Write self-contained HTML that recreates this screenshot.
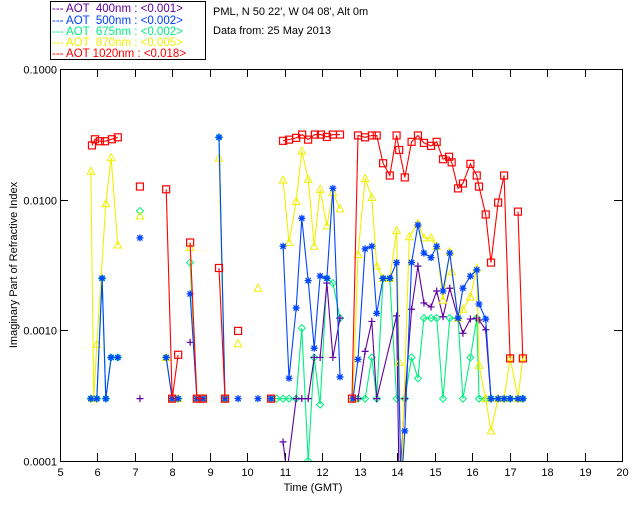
<!DOCTYPE html>
<html><head><meta charset="utf-8">
<style>
body{margin:0;background:#fff;}
svg{display:block;font-family:"Liberation Sans",sans-serif;}
</style></head>
<body>
<svg id="chart" width="640" height="512" viewBox="0 0 640 512">
<rect x="0" y="0" width="640" height="512" fill="#fff"/>
<g>
<rect x="50.5" y="1.5" width="155" height="58" fill="#fff" stroke="#000" stroke-width="1"/>
<g font-size="11.5">
<text x="52" y="12" fill="#6000a0" xml:space="preserve">--- AOT  400nm : &lt;0.001&gt;</text>
<text x="52" y="24" fill="#0040ff" xml:space="preserve">--- AOT  500nm : &lt;0.002&gt;</text>
<text x="52" y="35" fill="#00f080" xml:space="preserve">--- AOT  675nm : &lt;0.002&gt;</text>
<text x="52" y="46" fill="#f0f000" xml:space="preserve">--- AOT  870nm : &lt;0.005&gt;</text>
<text x="52" y="57" fill="#ff0000" xml:space="preserve">--- AOT 1020nm : &lt;0.018&gt;</text>
</g>
</g>
<text x="213" y="15" font-size="11" fill="#000">PML, N 50 22', W 04 08', Alt 0m</text>
<text x="213" y="34" font-size="11" fill="#000">Data from: 25 May 2013</text>
<g id="axes"></g>
<g id="series"></g>
<text x="313" y="491" font-size="11" text-anchor="middle">Time (GMT)</text>
<text transform="translate(17,265) rotate(-90)" font-size="11" text-anchor="middle">Imaginary Part of Refractive Index</text>
</svg>
<script>
const xTicks = [5,6,7,8,9,10,11,12,13,14,15,16,17,18,19,20];
const yTicks = [0.1,0.01,0.001,0.0001];
const yTickLabels = ["0.1000","0.0100","0.0010","0.0001"];

const tRed = [5.8,5.88,6.01,6.15,6.33,6.49,null,7.08,null,7.78,7.94,8.1,null,8.42,8.6,8.76,null,9.19,9.35,null,9.7,null,10.58,null,10.9,11.06,11.25,11.41,11.57,11.75,11.91,12.07,12.23,12.42,null,12.74,12.9,13.09,13.27,13.4,13.57,13.75,13.93,14.0,14.15,14.33,14.5,14.66,14.85,15.0,15.17,15.33,15.4,15.57,15.7,15.9,16.07,16.13,16.31,16.45,16.64,16.8,16.96,null,17.17,17.3];
const vRed = [0.026,0.029,0.028,0.028,0.029,0.030,null,0.0126,null,0.012,0.0003,0.00065,null,0.0047,0.0003,0.0003,null,0.003,0.0003,null,0.00099,null,0.0003,null,0.0282,0.0288,0.0297,0.0315,0.0288,0.0315,0.0315,0.0302,0.0315,0.0315,null,0.0003,0.031,0.030,0.031,0.031,0.019,0.0153,0.031,0.024,0.0148,0.0277,0.031,0.0272,0.0258,0.0277,0.0204,0.0213,0.0193,0.0122,0.0133,0.0188,0.0153,0.0126,0.0077,0.0033,0.0095,0.0153,0.00061,null,0.0081,0.00061];

const tBlue = [5.77,5.93,6.07,6.17,6.31,6.49,null,7.08,null,7.78,7.94,8.1,null,8.42,8.6,8.76,null,9.19,9.35,null,9.7,null,10.23,null,10.58,null,10.9,11.06,11.25,11.4,11.57,11.73,11.89,12.07,12.23,12.42,null,12.77,12.9,13.09,13.27,13.4,13.57,13.75,13.93,14.05,14.15,14.33,14.5,14.66,14.85,15.0,15.17,15.35,15.57,15.7,15.9,16.07,16.13,16.31,16.45,16.64,16.8,16.96,17.17,17.3];
const vBlue = [0.0003,0.0003,0.0025,0.0003,0.00062,0.00062,null,0.0051,null,0.00062,0.0003,0.0003,null,0.0019,0.0003,0.0003,null,0.030,0.0003,null,0.0003,null,0.0003,null,0.0003,null,0.0044,0.00043,0.00148,0.0072,0.0024,0.00073,0.0026,0.0025,0.0122,0.00044,null,0.0003,0.0006,0.0042,0.0044,0.00135,0.0025,0.0025,0.0033,0.00005,0.00017,0.0033,0.0064,0.0039,0.0036,0.0044,0.002,0.0039,0.00124,0.0021,0.0026,0.0029,0.00159,0.00122,0.0003,0.0003,0.0003,0.0003,0.0003,0.0003];

const tGreen = [5.77,5.93,6.07,6.17,6.31,6.49,null,7.08,null,7.78,7.94,8.1,null,8.42,8.6,8.76,null,9.19,9.35,null,10.58,10.73,10.9,11.06,11.25,11.4,11.57,11.73,11.89,12.07,12.23,12.42,null,12.77,12.9,13.09,13.27,13.4,13.57,13.75,13.93,14.15,14.33,14.5,14.66,14.85,15.0,15.17,15.35,15.57,15.7,15.9,16.07,16.13,16.31,16.45,16.64,16.8,16.96,17.17,17.3];
const vGreen = [0.0003,0.0003,0.0025,0.0003,0.00062,0.00062,null,0.0082,null,0.00062,0.0003,0.0003,null,0.0033,0.0003,0.0003,null,0.030,0.0003,null,0.0003,0.0003,0.0003,0.0003,0.0003,0.00104,0.0001,0.00062,0.00027,0.0025,0.0023,0.00124,null,0.0003,0.0003,0.0003,0.00062,0.0003,0.0025,0.0025,0.0003,0.0003,0.00062,0.00043,0.00124,0.00124,0.00124,0.0003,0.00124,0.00124,0.0003,0.00062,0.00124,0.0003,0.0003,0.0003,0.0003,0.0003,0.0003,0.0003,0.0003];

const tPurple = [7.08,null,8.42,null,10.9,11.0,11.25,11.4,11.57,11.73,11.89,12.07,12.23,12.42,null,12.9,13.09,13.27,13.4,13.93,14.0,14.15,14.33,14.5,14.66,14.85,15.0,15.17,15.35,15.57,15.7,15.9,16.07,16.13,16.31,16.45,16.64,16.8,16.96,17.17,17.3];
const vPurple = [0.0003,null,0.00081,null,0.00014,0.00008,0.0003,0.0003,0.0003,0.00062,0.00062,0.0023,0.00062,0.00124,null,0.0003,0.00069,0.00117,0.0003,0.00129,0.00005,0.0003,0.00145,0.0031,0.00162,0.00151,0.002,0.00127,0.0021,0.00124,0.00095,0.00122,0.00124,0.0012,0.00101,0.0003,0.0003,0.0003,0.0003,0.0003,0.0003];

const tYellow = [5.77,5.85,5.93,6.17,6.31,6.49,null,7.08,null,7.78,7.94,8.1,null,8.42,8.6,8.76,null,9.19,9.35,null,9.7,null,10.23,null,10.9,11.06,11.25,11.4,11.57,11.73,11.89,12.07,12.23,12.42,null,12.77,12.9,13.09,13.27,13.4,13.57,13.75,13.93,14.0,14.05,14.27,14.5,14.66,14.85,15.0,15.17,15.35,15.4,15.57,15.7,15.9,16.07,16.13,16.31,16.45,16.64,16.8,16.96,17.17,17.3];
const vYellow = [0.0165,0.0003,0.00078,0.0093,0.021,0.0045,null,0.0075,null,0.00062,0.0003,0.0003,null,0.0043,0.0003,0.0003,null,0.0208,0.0003,null,0.00079,null,0.0021,null,0.0141,0.0047,0.0097,0.0236,0.0143,0.0044,0.012,0.0063,0.0113,0.0085,null,0.0003,0.0038,0.0145,0.0104,0.0031,0.0025,0.0025,0.0058,0.00057,0.00005,0.0052,0.0066,0.0051,0.0051,0.0044,0.0017,0.004,0.0028,0.00124,0.00145,0.0018,0.003,0.00054,0.0003,0.00017,0.0003,0.0003,0.00062,0.0003,0.00062];

const X0=60, X1=622, Y0=69, Y1=461;
function xs(t){return X0+(t-5)*(X1-X0)/15;}
function xd(t){return xs(t)+2;}
function ys(v){return Y0+(-1-Math.log10(v))*(Y1-Y0)/3;}
const NS='http://www.w3.org/2000/svg';
const axes=document.getElementById('axes');
const series=document.getElementById('series');
function mk(tag,attrs,parent){const e=document.createElementNS(NS,tag);for(const k in attrs)e.setAttribute(k,attrs[k]);parent.appendChild(e);return e;}

const frame=mk('rect',{x:X0+0.5,y:Y0+0.5,width:X1-X0,height:Y1-Y0,fill:'none',stroke:'#000','stroke-width':1},axes);


xTicks.forEach(t=>{
  const x=Math.round(xs(t))+0.5;
  const a=mk('line',{x1:x,x2:x,y1:Y1,y2:Y1-8,stroke:'#000'},axes);
  
  
  const b=mk('line',{x1:x,x2:x,y1:Y0,y2:Y0+8,stroke:'#000'},axes);
  
  
  const l=mk('text',{x:x,y:Y1+15,'font-size':11,'text-anchor':'middle'},axes);
  l.textContent=t;
  
  
});
yTicks.forEach((v,i)=>{
  const y=Math.round(ys(v))+0.5;
  const a=mk('line',{x1:X0,x2:X0+8,y1:y,y2:y,stroke:'#000'},axes);
  
  
  const b=mk('line',{x1:X1,x2:X1-8,y1:y,y2:y,stroke:'#000'},axes);
  
  
  const l=mk('text',{x:X0-3,y:y+4,'font-size':11,'text-anchor':'end'},axes);
  l.textContent=yTickLabels[i];
  
  
});

function clampY(v){return Math.min(Math.max(ys(v),Y0),Y1+30);}
function drawSeries(ts,vs,color,marker,name){
  const g=mk('g',{},series);
  
  
  g.setAttribute('clip-path','url(#plotclip)');
  let seg=[];
  const flush=()=>{
    if(seg.length>1){
      const p=mk('polyline',{points:seg.map(q=>q.join(',')).join(' '),fill:'none',stroke:color,'stroke-width':1.1},g);
      
      
    }
    seg=[];
  };
  ts.forEach((t,i)=>{
    if(t===null||vs[i]===null){flush();return;}
    seg.push([xd(t).toFixed(1),clampY(vs[i]).toFixed(1)]);
  });
  flush();
  ts.forEach((t,i)=>{
    if(t===null||vs[i]===null)return;
    const x=xd(t), y=ys(vs[i]);
    if(y>Y1)return;
    let m;
    if(marker==='square') m=mk('rect',{x:x-3.5,y:y-3.5,width:7,height:7,fill:'none',stroke:color,'stroke-width':1.2},g);
    else if(marker==='star') m=mk('path',{d:`M${x-3.5},${y}H${x+3.5}M${x},${y-3.5}V${y+3.5}M${x-2.6},${y-2.6}L${x+2.6},${y+2.6}M${x-2.6},${y+2.6}L${x+2.6},${y-2.6}`,stroke:color,'stroke-width':1.3},g);
    else if(marker==='diamond') m=mk('path',{d:`M${x},${y-3.5}L${x+3.5},${y}L${x},${y+3.5}L${x-3.5},${y}Z`,fill:'none',stroke:color,'stroke-width':1},g);
    else if(marker==='tri') m=mk('path',{d:`M${x},${y-4}L${x+3.8},${y+3}L${x-3.8},${y+3}Z`,fill:'none',stroke:color,'stroke-width':1},g);
    else m=mk('path',{d:`M${x-3.5},${y}H${x+3.5}M${x},${y-3.5}V${y+3.5}`,stroke:color,'stroke-width':1.2},g);
    
    
  });
}
const defs=mk('defs',{},document.getElementById('chart'));
const cp=mk('clipPath',{id:'plotclip'},defs);
mk('rect',{x:X0,y:Y0,width:X1-X0,height:Y1-Y0},cp);

drawSeries(tGreen,vGreen,'#00f080','diamond','series-675nm');
drawSeries(tPurple,vPurple,'#6000a0','plus','series-400nm');
drawSeries(tYellow,vYellow,'#f0f000','tri','series-870nm');
drawSeries(tBlue,vBlue,'#0044ff','star','series-500nm');
drawSeries(tRed,vRed,'#ff0000','square','series-1020nm');
</script>
</body></html>
